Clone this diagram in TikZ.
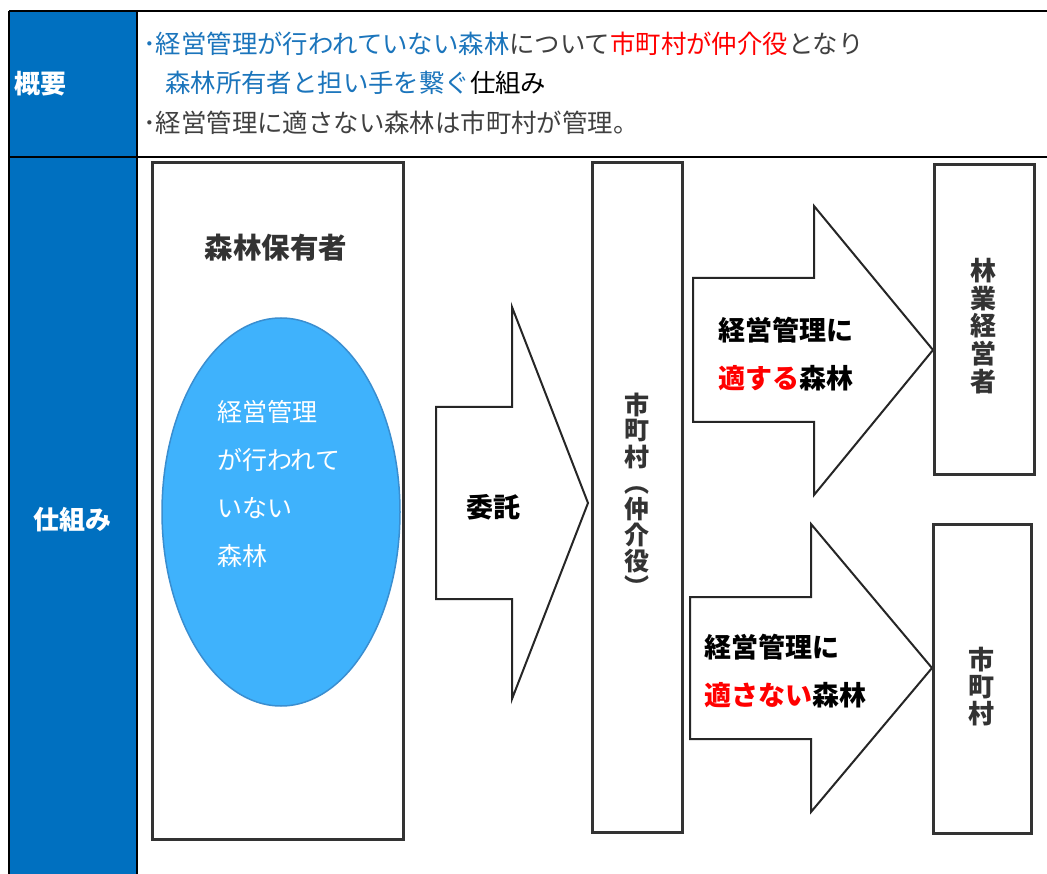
\documentclass[tikz,border=0pt]{standalone}
\usepackage{fontspec}
\setmainfont{Noto Sans CJK JP}
\usetikzlibrary{shapes.geometric}
\definecolor{hdrblue}{HTML}{0070C0}
\definecolor{txtblue}{HTML}{1B75BC}
\definecolor{txtgray}{HTML}{404040}
\definecolor{boxgray}{HTML}{333333}
\definecolor{ellfill}{HTML}{3FB2FC}
\definecolor{elldraw}{HTML}{3A8ED0}
\definecolor{myred}{HTML}{FF0000}
\newcommand\vcell[2]{\vbox to #1{\vss\hbox to 30pt{\hss#2\hss}\vss}}
\tikzset{
  tline/.style={black, line width=1.6pt},
  boxnode/.style={draw=boxgray, line width=3pt, fill=white, inner sep=0pt},
  blockarrow/.style={draw=black!85, line width=2pt, fill=white, line join=miter},
  hdrtxt/.style={anchor=west, inner sep=0pt, font=\fontsize{25.4pt}{30pt}\selectfont, text=txtgray},
  lbl/.style={inner sep=0pt, text=white, font=\fontsize{26pt}{30pt}\selectfont\bfseries},
  arrtxt/.style={anchor=west, inner sep=0pt, text=black, font=\fontsize{27pt}{30pt}\selectfont\bfseries},
  elltxt/.style={anchor=west, inner sep=0pt, text=white, font=\fontsize{25pt}{30pt}\selectfont},
  vtxt/.style={inner sep=0pt, text=boxgray, font=\fontsize{26pt}{30pt}\selectfont\bfseries},
}
\begin{document}
\begin{tikzpicture}[x=1pt,y=-1pt]
\useasboundingbox (0,0) rectangle (1047,874);
\fill[white] (0,0) rectangle (1047,874);
% table
\fill[hdrblue] (9,11) rectangle (137,874);
\draw[tline] (9,11) -- (1047,11);
\draw[tline] (9,157) -- (1047,157);
\draw[tline] (9,11) -- (9,874);
\draw[tline] (137,11) -- (137,874);
\node[lbl, anchor=west] (lgai) at (14,84) {概要};
\node[lbl] (lshikumi) at (73,520) {仕組み};
% header text
\node[hdrtxt] (h1) at (143,44) {\textcolor{txtblue}{･経営管理が行われていない森林}について\textcolor{myred}{市町村が仲介役}となり};
\node[hdrtxt] (h2) at (165,83) {\textcolor{txtblue}{森林所有者と担い手を繋ぐ}\textcolor{black}{仕組み}};
\node[hdrtxt] (h3) at (143,123) {･経営管理に適さない森林は市町村が管理。};
% owner box
\node[boxnode, minimum width=251pt, minimum height=676pt] (owner) at (277.5,501) {};
\node[inner sep=0pt, text=boxgray, font=\fontsize{28.5pt}{30pt}\selectfont\bfseries] (ownerlbl) at (276,248) {森林保有者};
\node[ellipse, draw=elldraw, line width=1.5pt, fill=ellfill, minimum width=238pt, minimum height=388pt, inner sep=0pt] (ell) at (281,512) {};
\node[elltxt] (e1) at (217,412) {経営管理};
\node[elltxt] (e2) at (217,460) {が行われて};
\node[elltxt] (e3) at (217,508) {いない};
\node[elltxt] (e4) at (217,556) {森林};
% arrow 1
\draw[blockarrow] (436,407) -- (512,407) -- (512,307) -- (588,503) -- (512,699) -- (512,599) -- (436,599) -- cycle;
\node[inner sep=0pt, text=black, font=\fontsize{27pt}{30pt}\selectfont\bfseries] (itaku) at (493,507) {委託};
% middle box
\node[boxnode, minimum width=90pt, minimum height=669pt] (mid) at (637,497.5) {};
\node[vtxt, font=\fontsize{25pt}{30pt}\selectfont\bfseries] (midlbl) at (637,496) {\vbox{\offinterlineskip
  \vcell{26pt}{市}\vcell{26pt}{町}\vcell{26pt}{村}\vcell{26pt}{\rotatebox[origin=c]{-90}{（}}%
  \vcell{26pt}{仲}\vcell{26pt}{介}\vcell{26pt}{役}\vcell{26pt}{\rotatebox[origin=c]{-90}{）}}}};
% arrow 2
\draw[blockarrow] (693,278) -- (814,278) -- (814,206) -- (933,350) -- (814,495) -- (814,422) -- (693,422) -- cycle;
\node[arrtxt] (a2l1) at (718,330) {経営管理に};
\node[arrtxt] (a2l2) at (718,378) {\textcolor{myred}{適する}森林};
% arrow 3
\draw[blockarrow] (690,597) -- (811,597) -- (811,524) -- (932,668) -- (811,812) -- (811,739) -- (690,739) -- cycle;
\node[arrtxt] (a3l1) at (704,647) {経営管理に};
\node[arrtxt] (a3l2) at (704,695) {\textcolor{myred}{適さない}森林};
% right boxes
\node[boxnode, minimum width=100pt, minimum height=309pt] (ops) at (984,319.5) {};
\node[vtxt] (opslbl) at (983,326) {\vbox{\offinterlineskip
  \vcell{27.6pt}{林}\vcell{27.6pt}{業}\vcell{27.6pt}{経}\vcell{27.6pt}{営}\vcell{27.6pt}{者}}};
\node[boxnode, minimum width=98pt, minimum height=309pt] (muni) at (982,678.5) {};
\node[vtxt] (munilbl) at (981,687) {\vbox{\offinterlineskip
  \vcell{27pt}{市}\vcell{27pt}{町}\vcell{27pt}{村}}};
\end{tikzpicture}
\end{document}
